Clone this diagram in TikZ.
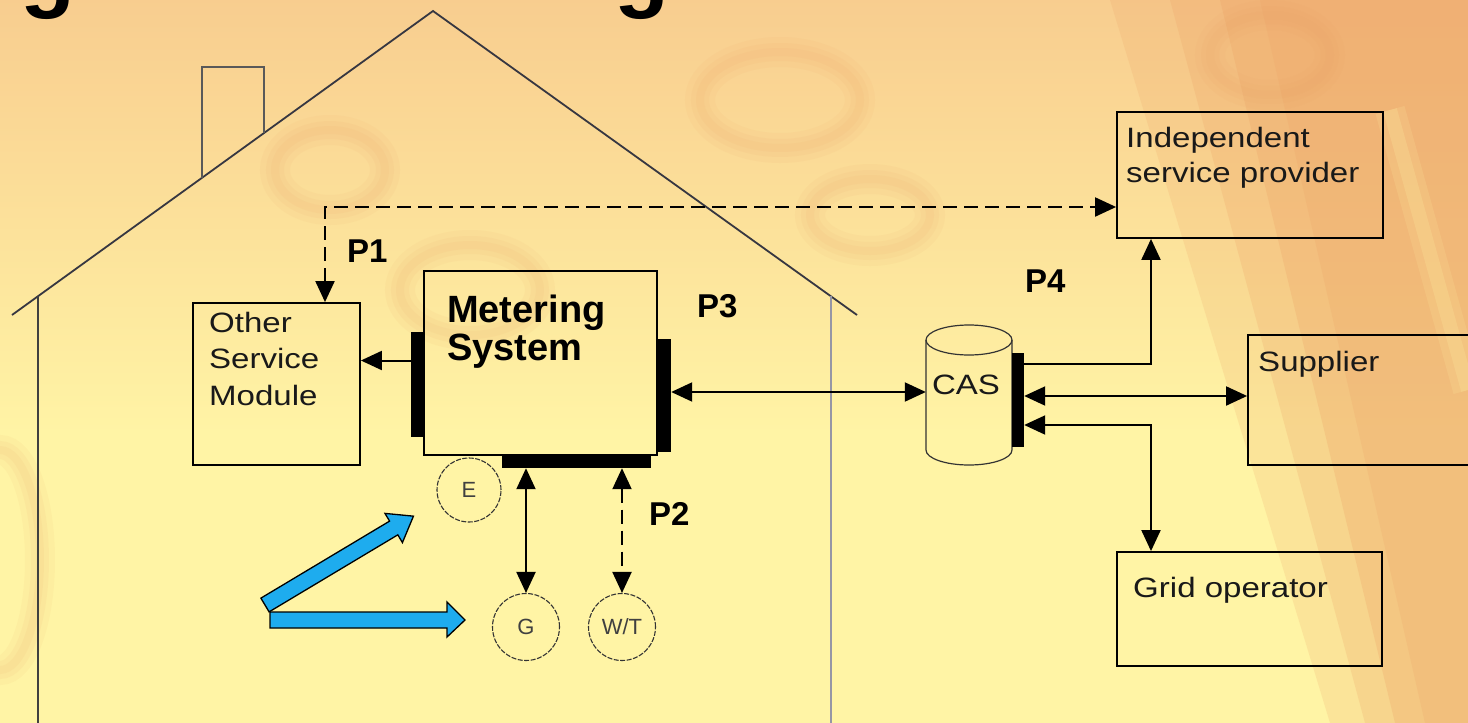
\documentclass[tikz,border=0pt]{standalone}
\usepackage{fontspec}
\setmainfont{Liberation Sans}
\newfontfamily\reg[FakeStretch=1.18]{Liberation Sans}
\usetikzlibrary{arrows.meta,calc}

\definecolor{bgtop}{RGB}{240,174,126}
\definecolor{bgmid}{RGB}{250,214,148}
\definecolor{bgbot}{RGB}{255,244,165}
\definecolor{streak}{RGB}{236,160,100}
\definecolor{arrowblue}{RGB}{30,172,238}
\definecolor{wallgray}{RGB}{150,150,165}
\definecolor{roofgray}{RGB}{55,55,65}

\pgfdeclareverticalshading{bgshade}{100bp}{color(0bp)=(bgbot); color(45bp)=(bgbot); color(68bp)=(bgmid); color(100bp)=(bgtop)}

\begin{document}
\begin{tikzpicture}[x=1pt,y=-1pt,
  box/.style={draw=black, line width=1.8pt, rectangle, inner sep=0pt},
  portbar/.style={fill=black, draw=none, rectangle, inner sep=0pt},
  arr/.style={line width=2pt, -{Triangle[length=21pt,width=19pt]}},
  darr/.style={line width=2pt, {Triangle[length=21pt,width=19pt]}-{Triangle[length=21pt,width=19pt]}},
  dsh/.style={dash pattern=on 14pt off 7pt},
  meter/.style={circle, draw=black!80, line width=1.1pt, dash pattern=on 5pt off 1.5pt, inner sep=0pt, font=\fontsize{22}{22}\selectfont, text=black!75},
  txt/.style={anchor=base west, inner sep=0pt, font=\reg\fontsize{28}{28}\selectfont, text=black!90},
  btxt/.style={anchor=base west, inner sep=0pt, font=\bfseries\fontsize{38}{38}\selectfont},
  plabel/.style={anchor=base west, inner sep=0pt, font=\bfseries\fontsize{33}{33}\selectfont},
  blockarrow/.style={fill=arrowblue, draw=black, line width=1.3pt, line join=miter},
  house/.style={draw=roofgray, line width=1.8pt},
  ringa/.style={draw=streak, line width=30pt, opacity=0.07},
  ringb/.style={draw=streak, line width=18pt, opacity=0.08},
  ringc/.style={draw=streak, line width=8pt, opacity=0.08},
  cyl/.style={draw=black!80, line width=1.2pt},
]
\useasboundingbox (0,0) rectangle (1468,723);
\begin{scope}
\clip (0,0) rectangle (1468,723);
% background
\shade[shading=bgshade] (0,0) rectangle (1468,723);
\fill[streak, opacity=0.18] (1110,0) -- (1468,0) -- (1468,723) -- (1330,723) -- cycle;
\fill[streak, opacity=0.22] (1170,0) -- (1468,0) -- (1468,723) -- (1365,723) -- cycle;
\fill[streak, opacity=0.25] (1220,0) -- (1468,0) -- (1468,723) -- (1395,723) -- cycle;
\fill[streak, opacity=0.2] (1260,0) -- (1468,0) -- (1468,723) -- (1425,723) -- cycle;
\draw[draw=bgbot, line width=30pt, opacity=0.15] (1390,110) -- (1468,390);
\draw[draw=bgbot, line width=14pt, opacity=0.2] (1390,110) -- (1468,390);
\foreach \cx/\cy/\rx/\ry in {780/100/80/48, 870/215/60/36, 330/170/55/40, 470/290/70/45, 1270/55/60/40, 0/560/40/110}{
  \draw[ringa] (\cx,\cy) ellipse [x radius=\rx pt, y radius=\ry pt];
  \draw[ringb] (\cx,\cy) ellipse [x radius=\rx pt, y radius=\ry pt];
  \draw[ringc] (\cx,\cy) ellipse [x radius=\rx pt, y radius=\ry pt];
}

% title fragments
\node[anchor=base, inner sep=0pt, font=\bfseries\fontsize{90}{90}\selectfont] (tg1) at (48,0) {g};
\node[anchor=base, inner sep=0pt, font=\bfseries\fontsize{90}{90}\selectfont] (tg2) at (642,0) {g};

% house
\draw[house] (12,315) -- (433,11) -- (857,315);
\draw[draw=black!75, line width=1.8pt] (38,296) -- (38,730);
\draw[draw=wallgray, line width=2.4pt] (831,296) -- (831,730);
\draw[draw=black!65, line width=1.5pt] (202,178) -- (202,67) -- (264,67) -- (264,133);

% boxes
\node[box, minimum width=167pt, minimum height=162pt] (osm) at (276.5,384) {};
\node[box, minimum width=233pt, minimum height=184pt] (ms) at (540.5,363) {};
\node[box, minimum width=266pt, minimum height=126pt] (isp) at (1250,175) {};
\node[box, minimum width=260pt, minimum height=130pt] (sup) at (1378,400) {};
\node[box, minimum width=265pt, minimum height=114pt] (grid) at (1249.5,609) {};

% port bars
\node[portbar, minimum width=13pt, minimum height=105pt] (msL) at (417.5,384.5) {};
\node[portbar, minimum width=14pt, minimum height=113pt] (msR) at (664,395.5) {};
\node[portbar, minimum width=149pt, minimum height=13pt] (msB) at (576.5,461.5) {};

% CAS cylinder
\node[minimum width=86pt, minimum height=140pt, inner sep=0pt] (cas) at (969,395) {};
\draw[cyl] (969,340) ellipse [x radius=43pt, y radius=15pt];
\draw[cyl] (926,340) -- (926,450) arc[start angle=180, end angle=360, x radius=43pt, y radius=15pt] -- (1012,340);
\node[anchor=base, inner sep=0pt, font=\reg\fontsize{28}{28}\selectfont, text=black!90] (castext) at (966,394) {CAS};
\node[portbar, minimum width=12pt, minimum height=94pt] (casR) at (1018,400) {};

% meters
\node[meter, minimum size=64pt] (e) at (469,490) {E};
\node[meter, minimum size=67pt] (g) at (526,627) {G};
\node[meter, minimum size=67pt] (wt) at (622,627) {W/T};

% texts
\node[txt] (o1) at (209,332) {Other};
\node[txt] (o2) at (209,368) {Service};
\node[txt] (o3) at (209,405) {Module};
\node[btxt] (m1) at (447,322) {Metering};
\node[btxt] (m2) at (447,360) {System};
\node[txt] (i1) at (1126,147) {Independent};
\node[txt] (i2) at (1126,182) {service provider};
\node[txt] (s1) at (1258,371) {Supplier};
\node[txt] (g1) at (1133,597) {Grid operator};
\node[plabel] (p1) at (347,262) {P1};
\node[plabel] (p2) at (649,525) {P2};
\node[plabel] (p3) at (697,317) {P3};
\node[plabel] (p4) at (1025,292) {P4};

% connectors
\draw[arr] ([yshift=24pt]msL.west) -- ([yshift=24pt]msL.west -| osm.east);
\draw[darr] ([yshift=3.5pt]msR.east) -- ([yshift=3.5pt]msR.east -| cas.west);
\coordinate (p1c) at (325,207);
\draw[darr, dsh] (osm.north -| p1c) -- (p1c) -- (p1c -| isp.west);
\draw[darr] (g.north |- msB.south) -- (g.north);
\draw[darr, dsh] (wt.north |- msB.south) -- (wt.north);
\coordinate (j1) at (1151,364);
\coordinate (j2) at (1151,396);
\coordinate (j3) at (1151,425);
\draw[arr] (j1 -| casR.east) -- (j1) -- (j1 |- isp.south);
\draw[darr] (j2 -| casR.east) -- (j2 -| sup.west);
\draw[darr] (j3 -| casR.east) -- (j3) -- (j3 |- grid.north);

% blue block arrows
\begin{scope}[shift={(265,605)}, rotate=30.9]
\draw[blockarrow] (0,-8) -- (150,-8) -- (150,-17) -- (173,0) -- (150,17) -- (150,8) -- (0,8) -- cycle;
\end{scope}
\draw[blockarrow] (270,612) -- (447,612) -- (447,602) -- (465,620) -- (447,637) -- (447,628) -- (270,628) -- cycle;
\end{scope}
\end{tikzpicture}
\end{document}
